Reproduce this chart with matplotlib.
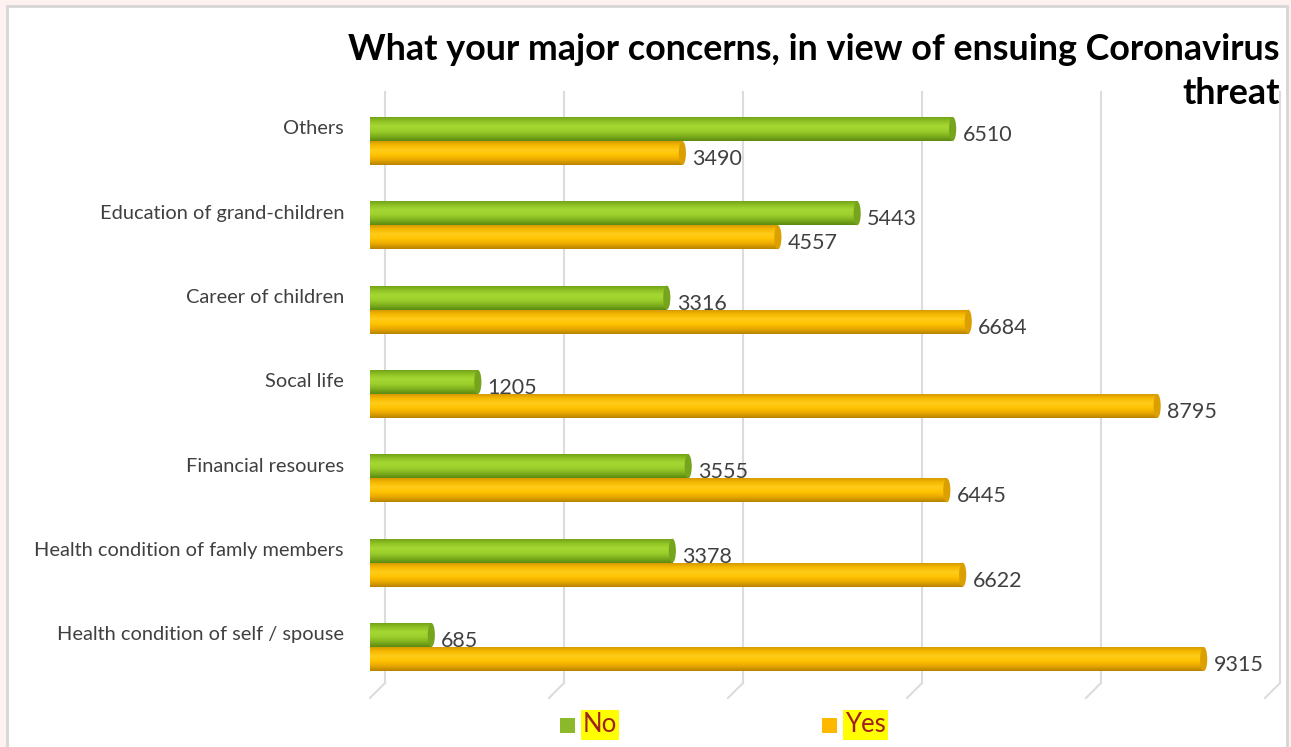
import numpy as np
import matplotlib.pyplot as plt
from matplotlib.patches import Rectangle, Ellipse
from matplotlib.colors import LinearSegmentedColormap
from matplotlib.transforms import ScaledTranslation

plt.rcParams['font.family'] = ['Lato', 'DejaVu Sans']

categories = ['Health condition of self / spouse', 'Health condition of famly members',
              'Financial resoures', 'Socal life', 'Career of children',
              'Education of grand-children', 'Others']
no_vals = [685, 3378, 3555, 1205, 3316, 5443, 6510]
yes_vals = [9315, 6622, 6445, 8795, 6684, 4557, 3490]

W, H = 1291, 747
fig = plt.figure(figsize=(W / 100, H / 100), dpi=100)
fig.patch.set_facecolor('#fdf2f0')

def fx(px):
    return px / W

def fy(py):
    return 1 - py / H

# white chart area with thin grey border
fig.patches.append(Rectangle((fx(7), fy(760)), fx(1287) - fx(7), fy(6) - fy(760),
                             transform=fig.transFigure, facecolor='white',
                             edgecolor='#d6d6d6', linewidth=2, zorder=-5))

ax = fig.add_axes([fx(370), fy(683), fx(1265) - fx(370), fy(92) - fy(683)])
ax.set_xlim(0, 10000)
ax.set_ylim(-0.427, 6.581)
ax.axis('off')

# back-wall gridlines (shifted right for the 3D depth) and their floor feet
depth = ScaledTranslation(0.15, 0, fig.dpi_scale_trans)
for v in range(0, 10001, 2000):
    ax.plot([v, v], [0, 1], color='#dcdcdc', lw=1.5,
            transform=ax.get_xaxis_transform() + depth, clip_on=False, zorder=0)
    x0 = ax.transData.transform((v, 0))[0] / W
    ax.plot([x0 + fx(15), x0], [fy(683), fy(698)], color='#dcdcdc', lw=1.5,
            transform=fig.transFigure, clip_on=False, zorder=0)

green_cmap = LinearSegmentedColormap.from_list(
    'g', ['#5d8a12', '#7fb11e', '#9ccf2c', '#a6d733', '#8fc225', '#6d9c16'])
yellow_cmap = LinearSegmentedColormap.from_list(
    'y', ['#b88300', '#e8a800', '#ffc300', '#ffcc1a', '#f5b800', '#cf9400'])
grad = np.linspace(0, 1, 64).reshape(-1, 1)

bh = 0.285
y = np.arange(len(categories))
cap_w = 80

def cylinder(vals, yc, cmap, cap_col):
    bars = ax.barh(yc, vals, height=bh, color='none', edgecolor='none', zorder=2)
    for bar, v, c in zip(bars, vals, yc):
        im = ax.imshow(grad, extent=[0, v, c - bh / 2, c + bh / 2], origin='lower',
                       aspect='auto', cmap=cmap, zorder=2)
        im.set_clip_path(bar)
        ax.add_patch(Ellipse((v, c), cap_w, bh, facecolor=cap_col,
                             edgecolor='none', zorder=3))
        ax.text(v + 110, c - 0.07, f'{v}', ha='left', va='center',
                fontsize=15.5, color='#404040', zorder=4)

cylinder(no_vals, y + bh / 2, green_cmap, '#76a41c')
cylinder(yes_vals, y - bh / 2, yellow_cmap, '#dba000')
ax.set_xlim(0, 10000)
ax.set_ylim(-0.427, 6.581)

for c, name in zip(y, categories):
    yp = ax.transData.transform((0, c + bh / 2))[1] / H
    fig.text(fx(344), yp, name, ha='right', va='center', fontsize=14.4, color='#404040')

fig.text(fx(1280), fy(50), 'What your major concerns, in view of ensuing Coronavirus',
         ha='right', va='center', fontsize=25.8, fontweight='bold', color='black')
fig.text(fx(1280), fy(93), 'threat', ha='right', va='center',
         fontsize=25.8, fontweight='bold', color='black')

# legend
for sx, tx, label, col in [(560, 583, 'No', '#8cb92a'), (822, 845, 'Yes', '#ffb800')]:
    fig.patches.append(Rectangle((fx(sx), fy(733)), fx(15), 15 / H,
                                 transform=fig.transFigure, facecolor=col, edgecolor='none'))
    fig.text(fx(tx), fy(725), label, ha='left', va='center', fontsize=18.5, color='#a0201e',
             bbox=dict(facecolor='#ffff00', edgecolor='none', pad=1.5))

fig.savefig('out.png', dpi=100, facecolor=fig.get_facecolor())
